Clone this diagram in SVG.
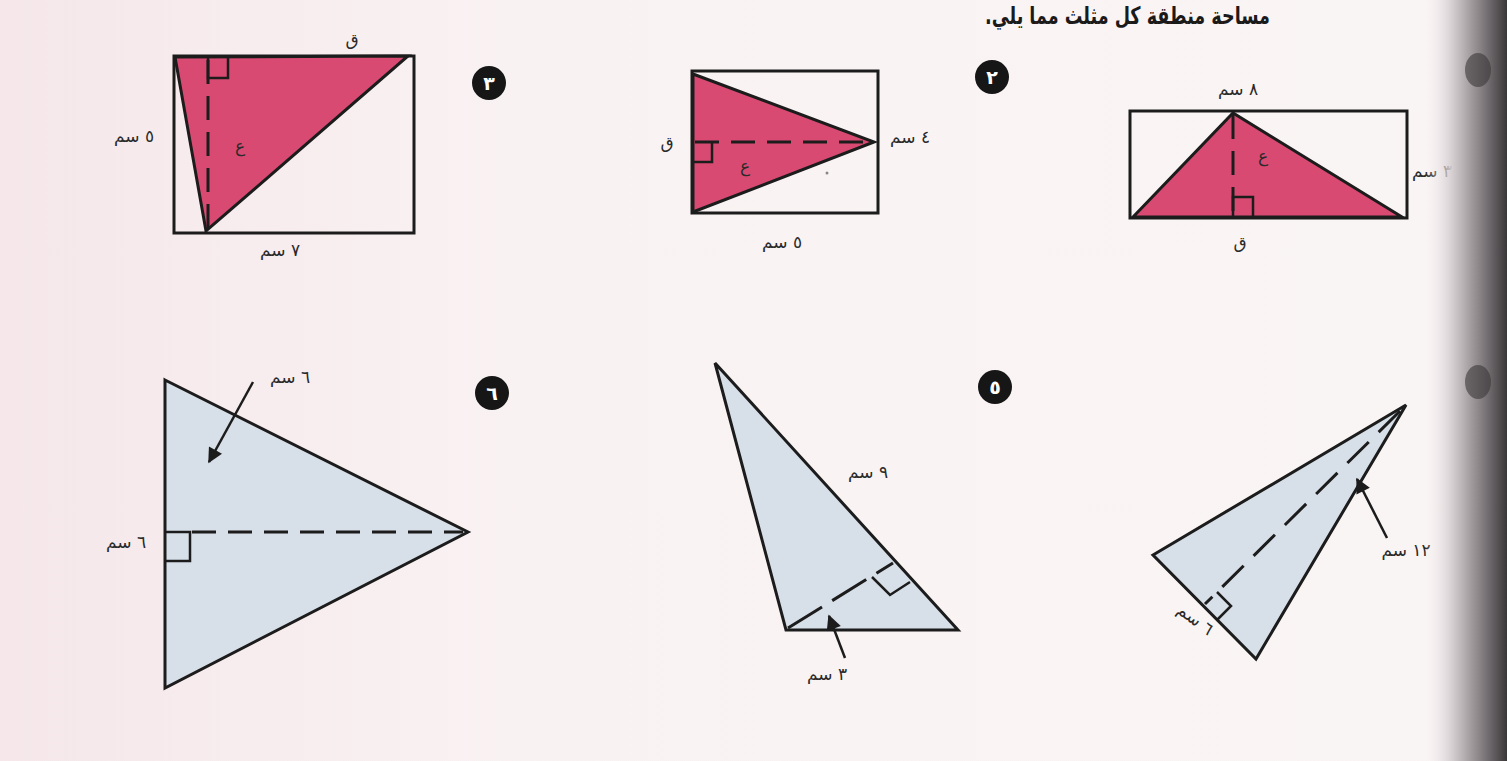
<svg xmlns="http://www.w3.org/2000/svg" width="1507" height="761" viewBox="0 0 1507 761">
<defs>
<style>
.out{fill:none;stroke:#1c1c1c;stroke-width:3;stroke-linejoin:miter}
.pink{fill:#d84a72;stroke:#1c1c1c;stroke-width:3;stroke-linejoin:miter}
.blue{fill:#d7dfe8;stroke:#1c1c1c;stroke-width:3;stroke-linejoin:miter}
.dash{fill:none;stroke:#1c1c1c;stroke-width:3;stroke-dasharray:24 12}
.ra{fill:none;stroke:#1c1c1c;stroke-width:2.5}
.lbl{font-family:"DejaVu Sans",sans-serif;font-size:17px;fill:#2a2a2a}
.num{font-family:"DejaVu Sans",sans-serif;font-size:19px;font-weight:bold;fill:#ffffff}
.badge{fill:#161616}
.arr{fill:none;stroke:#1c1c1c;stroke-width:2.5}
</style>
<marker id="ah" viewBox="0 0 10 10" refX="9" refY="5" markerWidth="7" markerHeight="6" orient="auto" markerUnits="strokeWidth">
<path d="M0,0 L10,5 L0,10 Z" fill="#1c1c1c"/>
</marker>
<linearGradient id="bg" x1="0" y1="0" x2="1" y2="0">
<stop offset="0" stop-color="#f5e7ea"/>
<stop offset="0.35" stop-color="#f9f2f3"/>
<stop offset="1" stop-color="#faf5f5"/>
</linearGradient>
<linearGradient id="bind" x1="0" y1="0" x2="1" y2="0">
<stop offset="0" stop-color="#f3ecee" stop-opacity="0"/>
<stop offset="0.35" stop-color="#d2cbce"/>
<stop offset="0.65" stop-color="#8e888b"/>
<stop offset="1" stop-color="#3b383a"/>
</linearGradient>
</defs>
<rect x="0" y="0" width="1507" height="761" fill="url(#bg)"/>

<text x="1270" y="24" direction="rtl" text-anchor="start" font-family="DejaVu Sans, sans-serif" font-size="24" font-weight="bold" fill="#1a1a1a" textLength="285" lengthAdjust="spacingAndGlyphs">مساحة منطقة كل مثلث مما يلي.</text>

<g id="fig3">
<rect class="out" x="174" y="56" width="240" height="177"/>
<polygon class="pink" points="175,57 408,56 206,231"/>
<line class="dash" x1="208" y1="60" x2="208" y2="229"/>
<path class="ra" d="M208,58 V78 H228 V58"/>
<text class="lbl" x="352" y="45" text-anchor="middle">ق</text>
<text class="lbl" x="240" y="152" text-anchor="middle">ع</text>
<text class="lbl" x="134" y="142" direction="rtl" text-anchor="middle">٥ سم</text>
<text class="lbl" x="280" y="256" direction="rtl" text-anchor="middle">٧ سم</text>
<circle class="badge" cx="489" cy="83" r="17"/>
<text class="num" x="489" y="90" text-anchor="middle">٣</text>
</g>

<g id="fig2">
<rect class="out" x="692" y="71" width="186" height="142"/>
<polygon class="pink" points="693,74 874,142 693,212"/>
<line class="dash" x1="695" y1="142" x2="872" y2="142"/>
<path class="ra" d="M693,162 H712 V142"/>
<text class="lbl" x="667" y="148" text-anchor="middle">ق</text>
<text class="lbl" x="745" y="172" text-anchor="middle">ع</text>
<text class="lbl" x="910" y="143" direction="rtl" text-anchor="middle">٤ سم</text>
<text class="lbl" x="782" y="248" direction="rtl" text-anchor="middle">٥ سم</text>
<circle cx="827" cy="173" r="1.5" fill="#888"/>
<circle class="badge" cx="992" cy="77" r="17"/>
<text class="num" x="992" y="84" text-anchor="middle">٢</text>
</g>

<g id="fig1">
<rect class="out" x="1130" y="111" width="277" height="107"/>
<polygon class="pink" points="1133,217 1233,113 1402,217"/>
<line class="dash" x1="1233" y1="115" x2="1233" y2="215"/>
<path class="ra" d="M1233,217 V197 H1253 V217"/>
<text class="lbl" x="1238" y="95" direction="rtl" text-anchor="middle">٨ سم</text>
<text class="lbl" x="1263" y="162" text-anchor="middle">ع</text>
<text class="lbl" x="1240" y="248" text-anchor="middle">ق</text>
<text class="lbl" x="1432" y="177" direction="rtl" text-anchor="middle">٣ سم</text>
</g>

<g id="fig6">
<polygon class="blue" points="165,380 468,532 165,688"/>
<line class="dash" x1="192" y1="532" x2="463" y2="532"/>
<path class="ra" d="M166,532 H190 V561 H166"/>
<text class="lbl" x="290" y="383" direction="rtl" text-anchor="middle">٦ سم</text>
<text class="lbl" x="126" y="548" direction="rtl" text-anchor="middle">٦ سم</text>
<circle class="badge" cx="492" cy="393" r="17"/>
<text class="num" x="492" y="400" text-anchor="middle">٦</text>
</g>

<g id="fig5">
<polygon class="blue" points="715,363 958,630 786,630"/>
<line class="dash" x1="788" y1="628" x2="893" y2="563" style="stroke-dasharray:40 12"/>
<path class="ra" d="M872,577 L890,595 L910,582"/>
<text class="lbl" x="868" y="478" direction="rtl" text-anchor="middle">٩ سم</text>
<text class="lbl" x="827" y="680" direction="rtl" text-anchor="middle">٣ سم</text>
<circle class="badge" cx="995" cy="387" r="17"/>
<text class="num" x="995" y="394" text-anchor="middle">٥</text>
</g>

<g id="fig4">
<polygon class="blue" points="1153,555 1406,405 1256,659"/>
<line class="dash" x1="1400" y1="411" x2="1205" y2="604" style="stroke-dasharray:30 14"/>
<path class="ra" d="M1217,592 L1231,606 L1217,620"/>
<text class="lbl" x="1406" y="556" direction="rtl" text-anchor="middle">١٢ سم</text>
<text class="lbl" x="0" y="0" direction="rtl" text-anchor="middle" transform="translate(1192,624) rotate(37)">٦ سم</text>
</g>

<g id="connectors">
<line class="arr" x1="253" y1="382" x2="209" y2="462" marker-end="url(#ah)"/>
<line class="arr" x1="845" y1="658" x2="829" y2="616" marker-end="url(#ah)"/>
<line class="arr" x1="1387" y1="538" x2="1357" y2="479" marker-end="url(#ah)"/>
</g>

<rect x="1425" y="0" width="82" height="761" fill="url(#bind)"/>
<ellipse cx="1478" cy="70" rx="13" ry="17" fill="#3a3738" opacity="0.6"/>
<ellipse cx="1478" cy="382" rx="13" ry="17" fill="#3a3738" opacity="0.6"/>
</svg>
